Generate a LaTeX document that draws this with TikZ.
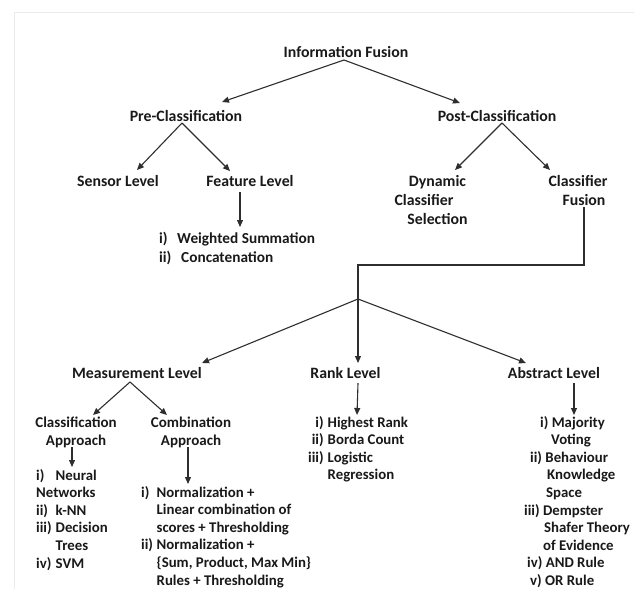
\documentclass[tikz,border=0pt]{standalone}
\usepackage{fontspec}
\setmainfont{Carlito}
\usetikzlibrary{arrows.meta}
\begin{document}
\begin{tikzpicture}[x=1pt,y=-1pt,
  txt/.style={inner sep=0pt, font=\bfseries\fontsize{15.8}{19}\selectfont, text=black!90},
  lst/.style={inner sep=0pt, font=\bfseries\fontsize{14.8}{17.6}\selectfont, text=black!90},
  arr/.style={draw=black!82, line width=1.1pt, -{Triangle[length=7pt,width=6pt]}},
  ln/.style={draw=black!82, line width=1.1pt}]
\useasboundingbox (0,0) rectangle (634,589);
\draw[black!8, line width=0.8pt] (634,12) -- (14,12) -- (14,589);

% level 0-2
\node[txt, anchor=base] (info) at (346,57) {Information Fusion};
\node[txt, anchor=base] (pre) at (186,121) {Pre-Classification};
\node[txt, anchor=base] (post) at (497,121) {Post-Classification};
\node[txt, anchor=base] (sensor) at (118,186) {Sensor Level};
\node[txt, anchor=base] (feature) at (250,186) {Feature Level};
\node[txt, anchor=base] (dyn) at (437.5,186) {\begin{tabular}[t]{@{}c@{}}Dynamic\\Classifier\hspace*{27pt}\\Selection\end{tabular}};
\node[txt, anchor=base] (cfus) at (578,186) {\begin{tabular}[t]{@{}c@{}}Classifier\\\hspace*{12pt}Fusion\end{tabular}};
\node[txt, anchor=base west] (featlist) at (159,243) {\fontsize{15.3}{19.5}\selectfont\begin{tabular}[t]{@{}l@{}}\makebox[18pt][l]{i)}Weighted Summation\\\makebox[22pt][l]{ii)}Concatenation\end{tabular}};

% level 3
\node[txt, anchor=base] (meas) at (137,378) {Measurement Level};
\node[txt, anchor=base] (rank) at (345.5,378) {Rank Level};
\node[txt, anchor=base] (abs) at (554,378) {Abstract Level};

\node[lst, anchor=base] (classapp) at (76,427) {\fontsize{15}{18}\selectfont\begin{tabular}[t]{@{}c@{}}Classification\\Approach\end{tabular}};
\node[lst, anchor=base] (combapp) at (191,427) {\fontsize{15}{18}\selectfont\begin{tabular}[t]{@{}c@{}}Combination\\Approach\end{tabular}};

\node[lst, anchor=base west] (nnlist) at (36,480) {\begin{tabular}[t]{@{}p{19.5pt}@{}l@{}}
i) & Neural\\
\multicolumn{2}{@{}l@{}}{Networks}\\
ii) & k-NN\\
iii) & Decision\\
 & Trees\\
iv) & SVM
\end{tabular}};

\node[lst, anchor=base west] (comblist) at (141,497) {\begin{tabular}[t]{@{}p{15.5pt}@{}l@{}}
i) & Normalization +\\
 & Linear combination of\\
 & scores + Thresholding\\
ii) & Normalization +\\
 & \{Sum, Product, Max Min\}\\
 & Rules + Thresholding
\end{tabular}};

\node[lst, anchor=base west] (ranklist) at (308,427) {\begin{tabular}[t]{@{}r@{\hspace{4pt}}l@{}}
i) & Highest Rank\\
ii) & Borda Count\\
iii) & Logistic\\
 & Regression
\end{tabular}};

\node[lst, anchor=base west] (abslist) at (524,427) {\begin{tabular}[t]{@{}l@{}}
\hspace*{16pt}i) Majority\\
\hspace*{27pt}Voting\\
\hspace*{6pt}ii) Behaviour\\
\hspace*{23pt}Knowledge\\
\hspace*{22pt}Space\\
iii) Dempster\\
\hspace*{20pt}Shafer Theory\\
\hspace*{19pt}of Evidence\\
\hspace*{3pt}iv) AND Rule\\
\hspace*{6pt}v) OR Rule
\end{tabular}};

% connectors
\draw[arr] ([shift={(-2,3)}]info.base) -- ([shift={(36,-19)}]pre.base);
\draw[arr] ([shift={(-2,3)}]info.base) -- ([shift={(-37,-18)}]post.base);
\draw[arr] ([shift={(-4,2)}]pre.base) -- ([shift={(19,-16)}]sensor.base);
\draw[arr] ([shift={(-4,2)}]pre.base) -- ([shift={(-20,-15)}]feature.base);
\draw[arr] ([shift={(5,2)}]post.base) -- ([shift={(17.5,-16)}]dyn.base);
\draw[arr] ([shift={(5,2)}]post.base) -- ([shift={(-28,-16)}]cfus.base);
\draw[arr] ([shift={(-10,6)}]feature.base) -- ([shift={(81,-16)}]featlist.base west);

\coordinate (bend) at (358,265);
\coordinate (junc) at (358,299);
\draw[ln] ([shift={(6,21)}]cfus.base) |- (bend) -- (junc);
\draw[arr] (junc) -- ([shift={(65,-15)}]meas.base);
\draw[arr] (junc) -- ([shift={(12.5,-15)}]rank.base);
\draw[arr] (junc) -- ([shift={(-28,-15)}]abs.base);

\draw[arr] ([shift={(-7,4)}]meas.base) -- ([shift={(17,-12)}]classapp.base);
\draw[arr] ([shift={(-7,4)}]meas.base) -- ([shift={(-24,-12)}]combapp.base);
\draw[arr] ([shift={(-4,20)}]classapp.base) -- ([shift={(36,-13)}]nnlist.base west);
\draw[arr] ([shift={(-3,20)}]combapp.base) -- ([shift={(47,-13)}]comblist.base west);
\draw[arr] ([shift={(12.5,5)}]rank.base) -- ([shift={(49,-12)}]ranklist.base west);
\draw[arr] ([shift={(20,5)}]abs.base) -- ([shift={(50,-12)}]abslist.base west);
\end{tikzpicture}
\end{document}
